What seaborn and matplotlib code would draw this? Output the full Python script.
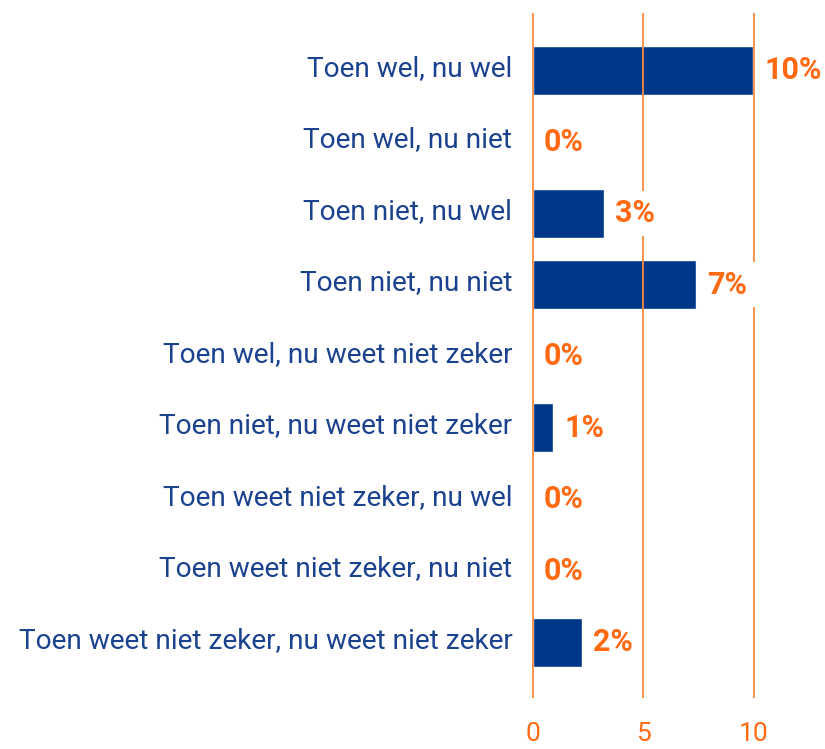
import pandas as pd
import numpy as np
import matplotlib.pyplot as plt
import matplotlib.transforms as mtrans
import seaborn as sns

categories = ['Toen wel, nu wel', 'Toen wel, nu niet', 'Toen niet, nu wel',
              'Toen niet, nu niet', 'Toen wel, nu weet niet zeker',
              'Toen niet, nu weet niet zeker', 'Toen weet niet zeker, nu wel',
              'Toen weet niet zeker, nu niet',
              'Toen weet niet zeker, nu weet niet zeker']
values = [9.97, 0, 3.2, 7.37, 0, 0.92, 0, 0, 2.22]
value_labels = ['10%', '0%', '3%', '7%', '0%', '1%', '0%', '0%', '2%']
xticks = [0, 5, 10]

blue = '#003889'
label_blue = '#1b428f'
orange = '#ff6a13'
grid_orange = '#f78a3f'

sns.set_style('white')
plt.rcParams['font.family'] = ['Roboto', 'DejaVu Sans']

df = pd.DataFrame({'cat': categories, 'val': values})

fig = plt.figure(figsize=(8.25, 7.49), dpi=100)
ax = fig.add_axes([0.6445, 0.0681, 0.35, 0.9145])

sns.barplot(data=df, x='val', y='cat', orient='h', color=blue,
            saturation=1, width=0.68, ax=ax)

ax.set_xlim(-0.05, 13)
ax.set_ylim(8.78, -0.8)
ax.set_xticks(xticks)
ax.set_xticklabels([str(t) for t in xticks], color=orange, fontsize=19)
ax.tick_params(axis='x', length=0, pad=17)
ax.tick_params(axis='y', length=0, pad=14, labelsize=20.2, labelcolor=label_blue)
ax.set_xlabel('')
ax.set_ylabel('')
for s in ax.spines.values():
    s.set_visible(False)

# category labels sit a little above the bar centres
shift = mtrans.ScaledTranslation(0, 5 / 100, fig.dpi_scale_trans)
for t in ax.get_yticklabels():
    t.set_transform(t.get_transform() + shift)

ax.set_axisbelow(False)
ax.grid(axis='x', color=grid_orange, linewidth=1.3)
ax.grid(axis='y', visible=False)

for i, (v, lab) in enumerate(zip(values, value_labels)):
    ax.annotate(lab, (v, i), xytext=(8, 0), textcoords='offset points',
                ha='left', va='center', color=orange, fontsize=22,
                fontweight='bold', zorder=5,
                bbox=dict(boxstyle='square,pad=0.25', fc='white', ec='none'))

fig.savefig('out.png', dpi=100)
